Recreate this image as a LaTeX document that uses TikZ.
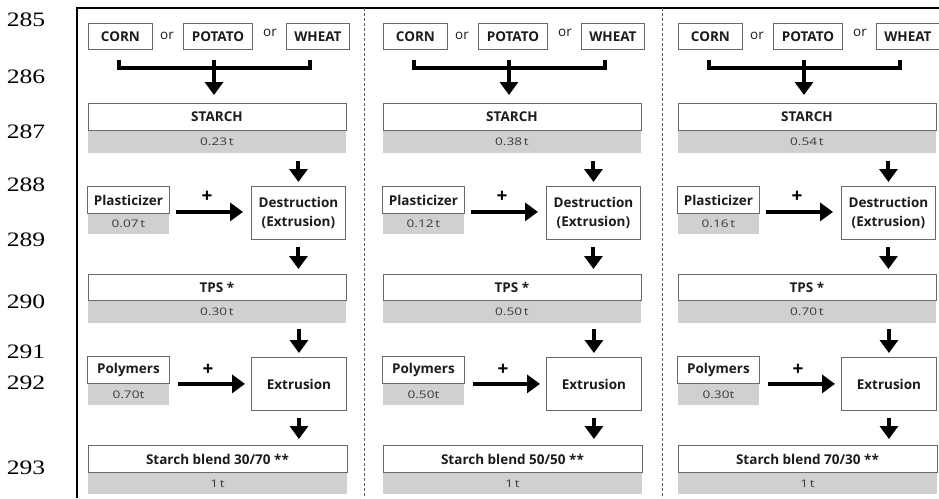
\documentclass[tikz,border=0pt]{standalone}
\usepackage{fontspec}
\setmainfont{Open Sans}
\newfontfamily\numfont{Liberation Serif}[FakeStretch=1.25]
\newfontfamily\bandfont{Open Sans}[FakeStretch=1.3]
\usetikzlibrary{arrows.meta,calc}
\definecolor{bandgray}{RGB}{208,208,208}
\definecolor{boxline}{RGB}{105,105,105}
\definecolor{txt}{RGB}{28,28,28}
\definecolor{bandtxt}{RGB}{60,60,60}
\definecolor{dashgray}{RGB}{90,90,90}
\tikzset{
  lbl/.style={draw=boxline, line width=0.9pt, fill=white, text=txt,
    font=\fontsize{13.5}{19}\selectfont\bfseries, inner sep=0pt,
    minimum height=27pt, anchor=north west, align=center},
  band/.style={fill=bandgray, text=bandtxt, font=\bandfont\fontsize{10.5}{12}\selectfont,
    inner sep=0pt, anchor=north},
  ortext/.style={text=txt, font=\fontsize{13.5}{16}\selectfont, inner sep=0pt},
  plustext/.style={text=black, font=\fontsize{19}{20}\selectfont\bfseries, inner sep=0pt},
  bigarrow/.style={line width=4pt, -{Triangle[width=18pt,length=13pt]}},
  bracketline/.style={line width=4pt, line join=miter},
  dashline/.style={dashgray, line width=0.8pt, dash pattern=on 3pt off 2pt},
  frameline/.style={black, line width=1.3pt},
  numtxt/.style={font=\numfont\fontsize{20.5}{22}\selectfont, text=black, inner sep=0pt}
}
\begin{document}
\begin{tikzpicture}[x=1pt,y=-1pt]
\useasboundingbox (0,0) rectangle (939,498);
% line numbers
\foreach \n/\yy in {285/20,286/77,287/132,288/185,289/240,290/302,291/352,292/383,293/468}{
  \node[numtxt] (ln\n) at (26,\yy) {\n};
}
% frame and separators
\draw[frameline] (77,498) -- (77,8) -- (939,8);
\draw[dashline] (364,8) -- (364,498);
\draw[dashline] (662,8) -- (662,498);
% panels
\foreach \dx/\s/\p/\tp/\q/\ba/\bb [count=\i] in {0/0.23/0.07/0.30/0.70/30/70, 295/0.38/0.12/0.50/0.50/50/50, 590/0.54/0.16/0.70/0.30/70/30}{
\begin{scope}[xshift=\dx pt]
  \node[lbl, minimum width=64pt, minimum height=26pt] (corn\i) at (88,23) {CORN};
  \node[ortext] (ora\i) at (167,36) {or};
  \node[lbl, minimum width=69pt, minimum height=26pt] (potato\i) at (183,23) {POTATO};
  \node[ortext] (orb\i) at (270,33) {or};
  \node[lbl, minimum width=63pt, minimum height=26pt] (wheat\i) at (286,23) {WHEAT};
  \coordinate (bl\i) at (119,60);
  \coordinate (br\i) at (310,60);
  \coordinate (bm\i) at (214,60);
  \draw[bracketline] (bl\i) -- ([yshift=-7.5pt]bl\i) -- ([yshift=-7.5pt]br\i) -- (br\i);
  % starch
  \node[lbl, minimum width=258pt] (starch\i) at (87.5,103) {STARCH};
  \node[band, minimum width=258pt, minimum height=22pt] (sband\i) at (starch\i.south) {\s\,t};
  \draw[bigarrow, shorten >=8pt] (bm\i) -- (bm\i |- starch\i.north);
  % plasticizer + destruction
  \node[lbl, minimum width=82pt] (plast\i) at (87,186) {Plasticizer};
  \node[band, minimum width=81pt, minimum height=20pt] (pband\i) at (plast\i.south) {\p\,t};
  \node[lbl, minimum width=94pt, minimum height=53pt] (destr\i) at (251,186) {Destruction\\(Extrusion)};
  \draw[bigarrow, shorten <=8pt, shorten >=4pt] (sband\i.south -| destr\i.north) -- (destr\i.north);
  \node[plustext] (plusa\i) at (207,197) {+};
  \coordinate (pa\i) at ([yshift=2pt]plast\i.south east);
  \draw[bigarrow, shorten <=6pt, shorten >=8pt] (pa\i) -- (pa\i -| destr\i.west);
  % TPS
  \node[lbl, minimum width=258pt, minimum height=26pt] (tps\i) at (87.5,274) {TPS *};
  \node[band, minimum width=258pt, minimum height=22pt] (tband\i) at (tps\i.south) {\tp\,t};
  \draw[bigarrow, shorten <=7pt, shorten >=5pt] (destr\i.south) -- (destr\i.south |- tps\i.north);
  % polymers + extrusion
  \node[lbl, minimum width=82pt] (poly\i) at (87,356) {Polymers};
  \node[band, minimum width=81pt, minimum height=21pt] (qband\i) at (poly\i.south) {\q t};
  \node[lbl, minimum width=95pt, minimum height=53pt] (extr\i) at (251,357) {Extrusion};
  \draw[bigarrow, shorten <=6pt, shorten >=4pt] (tband\i.south -| extr\i.north) -- (extr\i.north);
  \node[plustext] (plusb\i) at (208,370) {+};
  \coordinate (pb\i) at (poly\i.south east);
  \draw[bigarrow, shorten <=8pt, shorten >=6pt] (pb\i) -- (pb\i -| extr\i.west);
  % blend
  \node[lbl, minimum width=259pt] (blend\i) at (87.5,445) {Starch blend \ba/\bb\ **};
  \node[band, minimum width=259pt, minimum height=21pt] (bband\i) at (blend\i.south) {1\,t};
  \draw[bigarrow, shorten <=7pt, shorten >=6pt] (extr\i.south) -- (extr\i.south |- blend\i.north);
\end{scope}
}
\end{tikzpicture}
\end{document}
